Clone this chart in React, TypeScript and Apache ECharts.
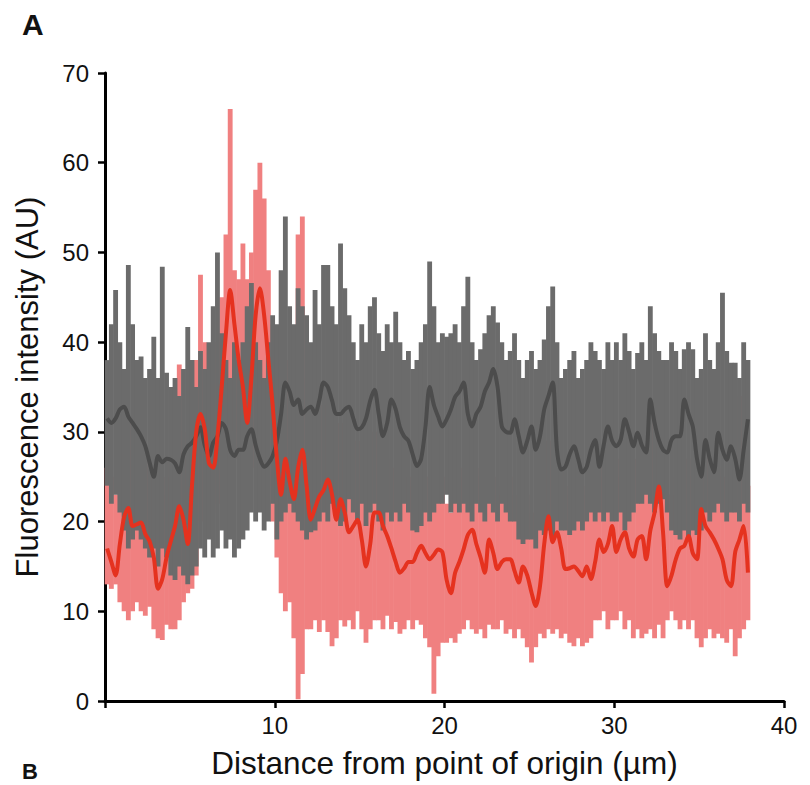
import React, { useEffect, useRef } from "react";
import * as echarts from "echarts";

// sample positions along the profile (µm)
const X_START = 0.125;
const X_STEP = 0.25;

// Control (gray): mean, upper and lower envelope
const grayMean = [
  31.5, 31.0, 31.5, 32.5, 32.8, 31.7, 31.0, 30.3, 29.5, 28.4, 26.6, 25.0,
  27.3, 26.6, 27.0, 26.9, 26.5, 25.5, 27.5, 28.4, 28.8, 29.5, 30.5, 28.5,
  27.3, 28.8, 29.5, 31.0, 30.3, 28.0, 27.3, 28.0, 28.0, 29.5, 30.3, 28.5,
  27.0, 26.1, 26.5, 27.3, 29.0, 32.0, 35.5, 34.5, 33.0, 33.6, 32.0, 32.5,
  32.8, 32.0, 33.5, 35.5, 35.0, 33.5, 32.0, 32.0, 32.5, 32.8, 31.5, 30.3,
  30.5, 31.5, 33.5, 34.7, 32.0, 29.5, 31.0, 33.6, 32.5, 30.5, 29.5, 29.0,
  27.5, 26.2, 27.0, 30.5, 35.0, 33.0, 31.7, 30.6, 31.4, 32.5, 33.9, 34.5,
  35.5, 32.0, 30.6, 32.0, 32.8, 34.5, 35.5, 37.0, 35.0, 30.6, 30.0, 29.9,
  31.4, 29.5, 27.7, 29.0, 30.6, 28.0, 29.5, 32.5, 34.0, 35.5, 28.0, 25.8,
  26.1, 27.5, 28.4, 27.0, 25.5, 26.1, 28.0, 29.1, 26.1, 28.5, 30.6, 29.0,
  28.4, 29.1, 31.4, 30.0, 28.4, 29.9, 28.5, 27.7, 33.6, 31.0, 29.1, 28.0,
  27.7, 29.1, 29.5, 29.5, 33.6, 32.0, 30.6, 27.0, 25.0, 29.1, 27.0, 25.5,
  29.9, 28.0, 26.9, 28.4, 27.0, 24.7, 28.0, 31.4,
];
const grayHigh = [
  38, 42, 45.8, 40, 37, 48.6, 42, 38, 38.4, 36, 37, 40.6,
  36, 48.4, 36.6, 35, 36, 34, 37, 41.7, 38, 35, 39, 37,
  40, 44, 50, 41, 38, 36, 40, 38, 40, 44, 46.6, 40,
  38, 36, 40, 43, 42, 48, 54, 44, 42, 46, 44, 43,
  40, 45.8, 42, 48.6, 48.6, 44, 42, 51, 46, 43, 40, 38,
  42, 40, 44, 45, 41, 39, 42, 40, 43.4, 40, 38, 39,
  37, 38, 40, 42, 49, 44, 40, 41, 40.6, 41, 42, 40,
  44, 47.3, 40, 38, 39.2, 41, 43, 44, 42.2, 40, 38, 39,
  41, 38, 36, 38, 39, 37, 38, 40.3, 44, 46.2, 40, 36,
  37, 38, 39, 36, 37, 38, 40, 39, 38, 37, 40, 38,
  40, 38, 41, 39, 37, 38.8, 40, 38, 44, 41, 39, 38,
  38, 40, 39, 37, 39.2, 40, 39.2, 36, 37, 41, 38, 37,
  40, 45.5, 39, 37.7, 37.7, 36, 40, 38,
];
const grayLow = [
  24, 22, 23, 21, 19, 17, 18, 19, 18, 17, 16, 17,
  15, 17, 16, 14, 13.5, 15, 14, 13, 14, 15, 17, 16,
  18, 16, 17, 19, 17, 18, 16, 17, 18, 19, 21, 20,
  21, 19, 20, 22, 18, 20, 21, 22, 21, 20, 19, 18,
  18.8, 19, 20, 21, 20, 22, 21, 19.5, 20, 22.5, 21, 20,
  22, 19.5, 21, 22, 20, 19, 21, 20, 21, 20, 22, 21,
  19, 18.8, 19.5, 21, 20, 21, 22, 22, 23, 21, 22, 21,
  22, 21, 20, 22, 21, 20, 22, 21, 20, 22, 21, 20,
  20, 18, 17.5, 18, 18, 17, 19, 18.5, 19, 18, 20, 19,
  19, 18.5, 19, 20, 19, 20, 21, 20, 21, 20, 21, 20,
  20, 21, 19, 20, 21, 22, 22, 23, 22, 21, 22, 22.5,
  21, 19, 18.5, 18, 19, 18, 19, 18.5, 19, 21, 20, 21,
  22, 21, 20, 21, 21, 20, 22, 21,
];

// Treated (red): mean, upper and lower envelope
const redMean = [
  17.0, 15.5, 14.0, 17.5, 20.5, 21.5, 19.5, 19.7, 19.9, 18.6, 17.8, 16.0,
  12.5, 13.6, 16.0, 17.8, 19.5, 21.7, 20.2, 17.5, 24.0, 30.0, 32.0, 30.3,
  26.5, 26.0, 29.5, 35.0, 41.0, 45.8, 42.0, 38.0, 35.0, 31.0, 36.0, 43.0,
  46.0, 43.0, 38.0, 33.0, 27.0, 23.0, 27.0, 24.5, 22.5, 26.0, 28.0, 24.0,
  20.2, 21.5, 22.8, 23.5, 24.7, 23.0, 20.2, 22.5, 21.0, 18.8, 19.5, 20.2,
  18.0, 15.0, 17.5, 21.0, 21.0, 19.5, 18.4, 17.0, 15.5, 14.3, 14.8, 15.5,
  15.5, 16.5, 17.3, 16.5, 15.8, 16.3, 16.9, 16.6, 13.5, 12.0, 14.3, 15.5,
  16.9, 18.5, 19.1, 17.5, 16.0, 14.3, 18.0, 16.5, 14.7, 15.5, 15.8, 15.8,
  14.5, 13.2, 15.0, 14.0, 12.1, 10.6, 12.8, 17.5, 20.6, 17.7, 18.8, 17.0,
  14.7, 14.8, 15.0, 14.5, 13.9, 15.0, 13.6, 15.5, 18.0, 16.6, 17.5, 19.5,
  16.6, 18.0, 18.8, 17.0, 16.1, 18.0, 18.4, 15.8, 19.0, 21.0, 23.9, 18.8,
  12.8, 14.0, 15.8, 17.0, 17.3, 18.4, 16.5, 15.8, 21.4, 19.5, 18.8, 18.0,
  17.0, 15.8, 13.5, 12.8, 16.6, 18.0, 19.5, 14.3,
];
const redHigh = [
  26, 25, 23, 27, 29, 31, 28, 29, 28, 27, 26, 25,
  22, 23, 25, 27, 29, 37.5, 30, 27, 33, 38, 47.5, 40,
  36, 35, 40, 45, 52, 66, 48, 47, 51, 47, 50, 57,
  60, 56, 48, 42, 38, 33, 38, 35, 33, 52, 54, 36,
  30, 31, 33, 33, 34, 32, 30, 31, 30, 28, 28, 29,
  27, 24, 27, 30, 30, 28, 27, 26, 24, 23, 24, 25,
  24, 25, 26, 25, 25, 25, 26, 25, 22, 21, 23, 25,
  26, 27, 28, 26, 25, 23, 27, 25, 23, 24, 25, 25,
  23, 22, 24, 23, 21, 19, 22, 26, 29, 27, 28, 26,
  23, 24, 24, 23, 23, 24, 22, 24, 27, 25, 26, 28,
  25, 27, 28, 26, 25, 27, 28, 25, 28, 32, 38, 28,
  22, 23, 25, 26, 26, 27, 25, 25, 30, 28, 28, 27,
  26, 25, 23, 22, 26, 34, 27, 24,
];
const redLow = [
  13, 12.5, 13, 11, 10, 9, 10, 11, 10, 9.5, 10.5, 8,
  7, 6.8, 8.5, 8, 8, 9, 11, 12, 12.5, 14, 20, 21,
  20, 21, 22, 24, 28, 32, 30, 27, 25, 23, 26, 30,
  32, 29, 24, 20, 16, 12, 10, 11, 7, 0.2, 3, 8,
  8, 9, 7.7, 9, 7.7, 6.1, 7, 9, 8.3, 9, 8, 10,
  8, 6.5, 8, 9, 9, 8, 9.5, 8, 8.8, 7.5, 8, 9,
  8, 9, 8.5, 7, 6, 0.8, 5, 6.5, 6.5, 7, 6.5, 7.5,
  8, 9, 8, 7.5, 8, 7, 8.5, 8, 8, 9, 7.5, 8,
  7, 8, 7, 6, 4.3, 6, 7.5, 7, 8, 7.5, 8, 7,
  7.5, 6.5, 6.1, 7, 6.1, 6.5, 7, 9, 9, 10, 8, 9,
  9, 10, 8, 9, 7, 8, 7, 7.5, 8, 7, 8.5, 7,
  9, 10, 9, 8, 9, 8, 9, 7, 6, 7, 8, 7,
  7.5, 7, 6.5, 8, 5, 7, 8, 9,
];

const X_TICKS = [0, 10, 20, 30, 40];
const Y_TICKS = [0, 10, 20, 30, 40, 50, 60, 70];

const FONT = "'Liberation Sans', Arial, sans-serif";

export default function App() {
  const ref = useRef<HTMLDivElement>(null);

  useEffect(() => {
    if (!ref.current) return;
    const chart = echarts.init(ref.current, null, { renderer: "svg" });
    const xs = grayMean.map((_, i) => +(X_START + i * X_STEP).toFixed(3));
    const pair = (arr: number[]) => arr.map((v, i) => [xs[i], v]);
    const band = (lo: number[], hi: number[]) => lo.map((v, i) => [xs[i], v, hi[i]]);

    const bandSeries = (name: string, data: number[][], color: string) => ({
      name,
      type: "custom",
      silent: true,
      data,
      encode: { x: 0, y: [1, 2] },
      renderItem: (params: any, api: any) => {
        const x = api.value(0);
        const lo = api.coord([x - X_STEP / 2, api.value(1)]);
        const hi = api.coord([x + X_STEP / 2, api.value(2)]);
        const left = Math.min(lo[0], hi[0]) - 0.3;
        const width = Math.abs(hi[0] - lo[0]) + 0.6;
        return {
          type: "rect",
          shape: { x: left, y: hi[1], width, height: lo[1] - hi[1] },
          style: { fill: color },
        };
      },
    });

    chart.setOption({
      animation: false,
      backgroundColor: "#ffffff",
      textStyle: { fontFamily: FONT },
      grid: { left: 105, right: 26, top: 73, bottom: 84, containLabel: false },
      xAxis: {
        type: "value",
        min: X_TICKS[0],
        max: X_TICKS[X_TICKS.length - 1],
        interval: 10,
        name: "Distance from point of origin (µm)",
        nameLocation: "middle",
        nameGap: 46,
        nameTextStyle: { fontSize: 31.5, color: "#111", fontFamily: FONT },
        axisLine: { show: true, onZero: false, lineStyle: { color: "#000", width: 3 } },
        axisTick: { show: true, inside: false, length: 7, lineStyle: { color: "#000", width: 2.5 } },
        axisLabel: {
          fontSize: 24,
          color: "#111",
          margin: 12,
          fontFamily: FONT,
          formatter: (v: number) => (v === 0 ? "" : String(v)),
        },
        splitLine: { show: false },
      },
      yAxis: {
        type: "value",
        min: Y_TICKS[0],
        max: Y_TICKS[Y_TICKS.length - 1],
        interval: 10,
        name: "Fluorescence intensity (AU)",
        nameLocation: "middle",
        nameGap: 62,
        nameRotate: 90,
        nameTextStyle: { fontSize: 31, color: "#111", fontFamily: FONT },
        axisLine: { show: true, onZero: false, lineStyle: { color: "#000", width: 3 } },
        axisTick: { show: true, inside: false, length: 7, lineStyle: { color: "#000", width: 2.5 } },
        axisLabel: { fontSize: 24, color: "#111", margin: 16, fontFamily: FONT },
        splitLine: { show: false },
      },
      graphic: [
        {
          type: "text",
          left: 22,
          top: 9,
          style: { text: "A", fontSize: 30, fontWeight: "bold", fill: "#111", fontFamily: FONT },
        },
        {
          type: "text",
          left: 22,
          top: 760,
          style: { text: "B", fontSize: 22, fontWeight: "bold", fill: "#111", fontFamily: FONT },
        },
      ],
      series: [
        bandSeries("redBand", band(redLow, redHigh), "#f08080"),
        bandSeries("grayBand", band(grayLow, grayHigh), "#6b6b6b"),
        {
          name: "grayMean",
          type: "line",
          data: pair(grayMean),
          symbol: "none",
          smooth: 0.3,
          lineStyle: { color: "#4c4c4c", width: 4 },
        },
        {
          name: "redMean",
          type: "line",
          data: pair(redMean),
          symbol: "none",
          smooth: 0.3,
          lineStyle: { color: "#e5321f", width: 4 },
        },
      ],
    });

    return () => chart.dispose();
  }, []);

  return (
    <div
      ref={ref}
      style={{ position: "fixed", left: 0, top: 0, width: 810, height: 785 }}
    />
  );
}
